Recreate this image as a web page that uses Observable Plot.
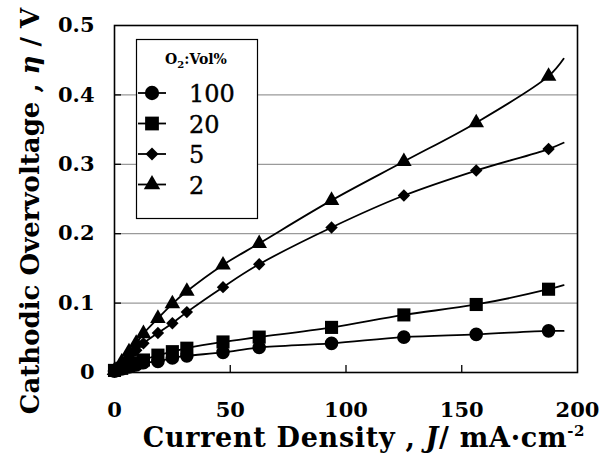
<!DOCTYPE html>
<html>
<head>
<meta charset="utf-8">
<script src="https://cdn.jsdelivr.net/npm/d3@7"></script>
<script src="https://cdn.jsdelivr.net/npm/@observablehq/plot@0.6"></script>
<style>
  html, body { margin: 0; padding: 0; background: #fff; }
</style>
</head>
<body>
<div id="chart"></div>
<script>
// ---- data ----
const currentDensity = [0, 3.125, 6.25, 9.375, 12.5, 18.75, 25, 31.25, 46.875, 62.5, 93.75, 125, 156.25, 187.5];
const seriesNames = ["100", "20", "5", "2"];
const eta100 = [0.002, 0.005, 0.008, 0.011, 0.014, 0.016, 0.021, 0.024, 0.029, 0.036, 0.042, 0.051, 0.055, 0.060];
const eta20  = [0.003, 0.006, 0.010, 0.014, 0.018, 0.025, 0.030, 0.035, 0.044, 0.051, 0.065, 0.083, 0.098, 0.120];
const eta5   = [0.003, 0.012, 0.022, 0.032, 0.042, 0.057, 0.071, 0.087, 0.123, 0.156, 0.209, 0.255, 0.291, 0.322];
const eta2   = [0.003, 0.015, 0.030, 0.042, 0.056, 0.078, 0.099, 0.117, 0.155, 0.186, 0.248, 0.304, 0.360, 0.427];
// trend-line end points (fitted curves run a little past the last measurement)
const fitEndJ = 194;
const fitEndEta = [0.060, 0.126, 0.331, 0.452];
const xTicks = [0, 50, 100, 150, 200];
const yTicks = [0, 0.1, 0.2, 0.3, 0.4, 0.5];
const gridTicks = [0.1, 0.2, 0.3, 0.4];

// ---- build tables ----
const etaBySeries = [eta100, eta20, eta5, eta2];
const symbols = ["circle", "square", "diamond2", "triangle"];
const radii = {circle: 6.8, square: 7.4, diamond2: 5.6, triangle: 5.8};
const points = [];
const lines = [];
seriesNames.forEach((s, i) => {
  currentDensity.forEach((j, k) => {
    points.push({series: s, J: j, eta: etaBySeries[i][k]});
    lines.push({series: s, J: j, eta: etaBySeries[i][k]});
  });
  lines.push({series: s, J: fitEndJ, eta: fitEndEta[i]});
});

const W = 601, H = 456;
const mL = 114, mR = 24, mT = 25, mB = 84;
const fw = W - mL - mR, fh = H - mT - mB;
const serif = "DejaVu Serif, Liberation Serif, serif";

const dotMarks = seriesNames.map((s, i) =>
  Plot.dot(points.filter(d => d.series === s), {
    x: "J", y: "eta", symbol: () => symbols[i], r: radii[symbols[i]],
    fill: "black", stroke: "none"
  })
);

const chart = Plot.plot({
  width: W, height: H,
  marginLeft: mL, marginRight: mR, marginTop: mT, marginBottom: mB,
  style: {fontFamily: serif, background: "white", color: "black"},
  x: {domain: [0, 200], axis: null},
  y: {domain: [0, 0.5], axis: null},
  symbol: {type: "identity"},
  marks: [
    Plot.gridY(gridTicks, {stroke: "#9a9a9a", strokeOpacity: 1, strokeWidth: 1.2}),
    // tick labels
    Plot.text(xTicks, {x: d => d, text: d => String(d), frameAnchor: "bottom", dy: 38,
      lineAnchor: "middle", textAnchor: "middle",
      fontFamily: serif, fontWeight: "bold", fontSize: 21, fill: "black"}),
    Plot.text(yTicks, {y: d => d, text: d => d === 0 ? "0" : d.toFixed(1), frameAnchor: "left", dx: -20,
      lineAnchor: "middle", textAnchor: "end",
      fontFamily: serif, fontWeight: "bold", fontSize: 21, fill: "black"}),
    // inward tick marks
    Plot.tickX(xTicks.slice(1, -1), {x: d => d, stroke: "black", strokeWidth: 1.3, insetTop: fh - 7}),
    Plot.tickY(yTicks.slice(1, -1), {y: d => d, stroke: "black", strokeWidth: 1.3, insetRight: fw - 7}),
    Plot.line(lines, {x: "J", y: "eta", z: "series", curve: "catmull-rom", stroke: "black", strokeWidth: 1.8}),
    ...dotMarks,
    Plot.frame({stroke: "black", strokeWidth: 1.6})
  ]
});
document.getElementById("chart").appendChild(chart);

const svg = d3.select(chart);

// ---- axis titles & legend drawn into the same SVG ----
const xt = svg.append("text")
  .attr("x", 364).attr("y", 447)
  .attr("text-anchor", "middle")
  .attr("font-family", serif).attr("font-weight", "bold").attr("font-size", 27)
  .style("letter-spacing", "0.7px")
  .attr("fill", "black");
xt.append("tspan").text("Current Density , ");
xt.append("tspan").attr("font-style", "italic").text("J");
xt.append("tspan").text("/ mA·cm");
xt.append("tspan").attr("dy", -11).attr("font-size", 15).text("-2");

const yt = svg.append("text")
  .attr("transform", "translate(39,211) rotate(-90)")
  .attr("text-anchor", "middle")
  .attr("font-family", serif).attr("font-weight", "bold").attr("font-size", 26)
  .attr("fill", "black");
yt.append("tspan").text("Cathodic Overvoltage , ");
yt.append("tspan").attr("font-style", "italic").text("η");
yt.append("tspan").text(" / V");

// legend
const lg = svg.append("g");
lg.append("rect").attr("x", 136.5).attr("y", 39.5).attr("width", 121).attr("height", 179)
  .attr("fill", "white").attr("stroke", "black").attr("stroke-width", 1.2);
const lt = lg.append("text").attr("x", 196).attr("y", 64).attr("text-anchor", "middle")
  .attr("font-family", serif).attr("font-weight", "bold").attr("font-size", 14)
  .attr("fill", "black");
lt.append("tspan").text("O");
lt.append("tspan").attr("dy", 4).attr("font-size", 10).text("2");
lt.append("tspan").attr("dy", -4).text(":Vol%");

const d3sym = {circle: d3.symbolCircle, square: d3.symbolSquare, diamond2: d3.symbolDiamond2, triangle: d3.symbolTriangle};
seriesNames.forEach((s, i) => {
  const cy = 93 + i * 30.5;
  lg.append("line").attr("x1", 138).attr("x2", 166).attr("y1", cy).attr("y2", cy)
    .attr("stroke", "black").attr("stroke-width", 1.8);
  const r = radii[symbols[i]] * 1.05;
  lg.append("path").attr("transform", `translate(152,${cy})`)
    .attr("d", d3.symbol(d3sym[symbols[i]], Math.PI * r * r)())
    .attr("fill", "black");
  lg.append("text").attr("x", 189).attr("y", cy + 9).attr("text-anchor", "start")
    .attr("font-family", serif).attr("font-weight", "normal").attr("font-size", 24)
    .attr("fill", "black").attr("stroke", "black").attr("stroke-width", 0.4).text(s);
});
</script>
</body>
</html>
